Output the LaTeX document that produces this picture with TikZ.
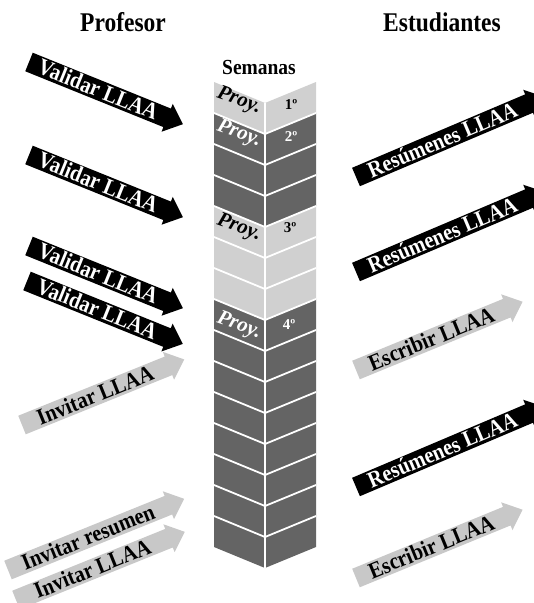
\documentclass[tikz,border=0pt]{standalone}
\usepackage{fontspec}
\setmainfont{Liberation Serif}
\definecolor{lt}{RGB}{208,208,208}
\definecolor{dk}{RGB}{100,100,100}
\definecolor{ga}{RGB}{200,200,200}
\newcommand\myarr[8]{%
  \begin{scope}[shift={(#2,#3)}, rotate=#4]
    \fill[#6] (0,-10) -- ({#5-17},-10) -- ({#5-17},-15) -- (#5,0) -- ({#5-17},15) -- ({#5-17},10) -- (0,10) -- cycle;
    \node[arrtext, text=#7] (#1) at ({(#5-17)/2},0) {#8};
  \end{scope}}
\begin{document}
\begin{tikzpicture}[x=1pt, y=-1pt,
  arrtext/.style={transform shape, yscale=1.12, font=\bfseries\fontsize{20.5}{21}\selectfont, inner sep=0pt, text height=13pt, text depth=0pt},
  title/.style={yscale=1.15, font=\bfseries\fontsize{23.5}{24}\selectfont, inner sep=0pt},
  sem/.style={yscale=1.1, font=\bfseries\fontsize{19.5}{20}\selectfont, inner sep=0pt},
  proy/.style={font=\bfseries\itshape\fontsize{21}{21}\selectfont, inner sep=0pt, rotate=-20},
  num/.style={font=\bfseries\fontsize{15}{15}\selectfont, inner sep=0pt},
  sepline/.style={white, line width=1.8pt},
  seam/.style={white, line width=1.2pt}]
\fill[white] (0,0) rectangle (534,603);
\useasboundingbox (0,0) rectangle (534,603);
% titles
\node[title] (prof) at (123,22) {Profesor};
\node[title] (estu) at (442,22) {Estudiantes};
\node[sem] (sem) at (259,67) {Semanas};
% week column
\foreach \i/\c in {0/lt,1/dk,2/dk,3/dk,4/lt,5/lt,6/lt,7/dk,8/dk,9/dk,10/dk,11/dk,12/dk,13/dk,14/dk}{
  \fill[\c] (214,{82+31*\i}) -- (265,{103+31*\i}) -- (316,{82+31*\i}) -- (316,{113+31*\i}) -- (265,{134+31*\i}) -- (214,{113+31*\i}) -- cycle;
}
\foreach \i in {1,...,14}{
  \draw[sepline] (214,{82+31*\i}) -- (265,{103+31*\i}) -- (316,{82+31*\i});
}
\draw[seam] (265,103) -- (265,568);
% labels in column
\node[proy, text=black] (p1) at (239,101) {Proy.};
\node[proy, text=white] (p2) at (239,134) {Proy.};
\node[proy, text=black] (p3) at (239,228) {Proy.};
\node[proy, text=white] (p4) at (239,326) {Proy.};
\node[num, text=black] (n1) at (291,105) {1º};
\node[num, text=white] (n2) at (291,137) {2º};
\node[num, text=black] (n3) at (290,228) {3º};
\node[num, text=white] (n4) at (289,325) {4º};
% left arrows (Profesor)
\myarr{a1}{29}{62}{-22}{166}{black}{white}{Validar LLAA}
\myarr{a2}{29}{155}{-22}{166}{black}{white}{Validar LLAA}
\myarr{a3}{29}{246}{-22}{166}{black}{white}{Validar LLAA}
\myarr{a4}{27}{281}{-22}{168}{black}{white}{Validar LLAA}
\myarr{a5}{22}{425}{22}{175}{ga}{black}{Invitar LLAA}
\myarr{a6}{8}{570}{22}{190}{ga}{black}{Invitar resumen}
\myarr{a7}{16}{600}{22}{182}{ga}{black}{Invitar LLAA}
% right arrows (Estudiantes)
\myarr{b1}{356}{177}{23}{205}{black}{white}{Resúmenes LLAA}
\myarr{b2}{356}{272}{23}{205}{black}{white}{Resúmenes LLAA}
\myarr{b3}{356}{370}{22.3}{180}{ga}{black}{Escribir LLAA}
\myarr{b4}{356}{487}{23}{205}{black}{white}{Resúmenes LLAA}
\myarr{b5}{356}{578}{22.3}{180}{ga}{black}{Escribir LLAA}
\end{tikzpicture}
\end{document}
